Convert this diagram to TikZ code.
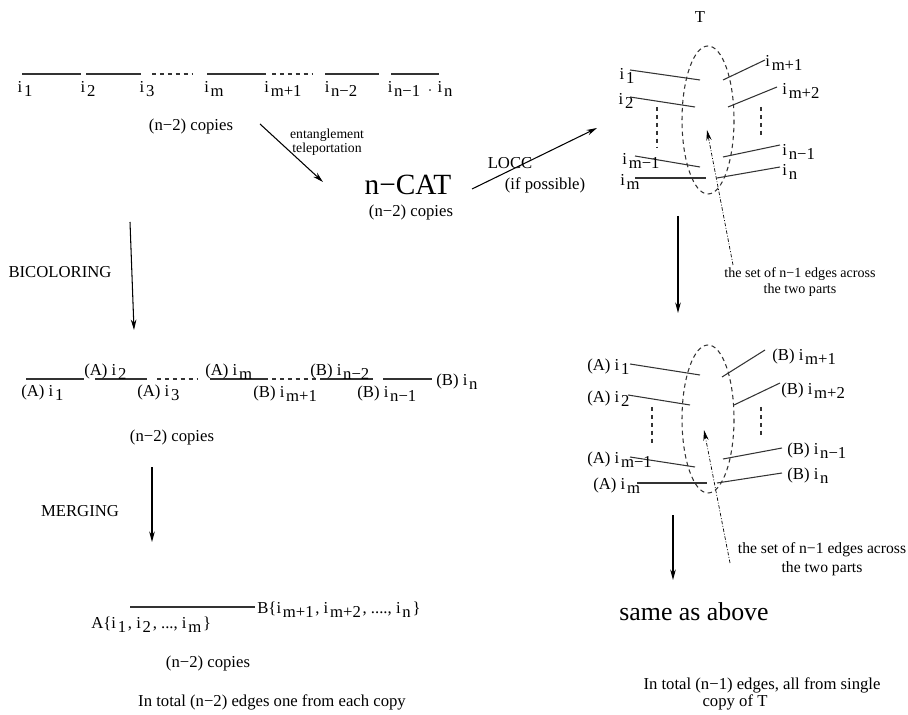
\documentclass[tikz,border=0pt]{standalone}
\usepackage{fontspec}
\setmainfont{Liberation Serif}
\usetikzlibrary{arrows.meta}
\newcommand{\lo}[1]{\raisebox{-0.55ex}{#1}}
\newcommand{\iv}[1]{i\kern1pt\lo{#1}}

\begin{document}
\begin{tikzpicture}[x=0.02cm,y=-0.02cm,
  lbl/.style={font=\fontsize{9.5}{11}\selectfont,inner sep=0pt},
  small/.style={font=\fontsize{7.8}{6.5}\selectfont,inner sep=0pt,align=center},
  edge/.style={line width=0.6pt,black!80},
  dashline/.style={edge,dash pattern=on 2.5pt off 2pt},
  flow/.style={line width=0.6pt,-{Stealth[length=6pt,width=3.2pt]}},
  pointer/.style={line width=0.4pt,dash pattern=on 2pt off 1pt on 0.5pt off 1pt,-{Stealth[length=6pt,width=3pt]}}]
\useasboundingbox (0,0) rectangle (908,715);%
% top row: the path i_1 ... i_n
\coordinate (r1a) at (22,74); \coordinate (r1b) at (81,74);%
\coordinate (r2a) at (86,74); \coordinate (r2b) at (141,74);%
\coordinate (r3a) at (152,74); \coordinate (r3b) at (192,74);%
\coordinate (r4a) at (207,74); \coordinate (r4b) at (266,74);%
\coordinate (r5a) at (272,74); \coordinate (r5b) at (312,74);%
\coordinate (r6a) at (325,74); \coordinate (r6b) at (379,74);%
\coordinate (r7a) at (391,74); \coordinate (r7b) at (439,74);%
\draw[edge] (r1a) -- (r1b);%
\draw[edge] (r2a) -- (r2b);%
\draw[dashline] (r3a) -- (r3b);%
\draw[edge] (r4a) -- (r4b);%
\draw[dashline] (r5a) -- (r5b);%
\draw[edge] (r6a) -- (r6b);%
\draw[edge] (r7a) -- (r7b);%
\node[lbl] (t1) at (25,89) {\iv{1}};%
\node[lbl] (t2) at (88,89) {\iv{2}};%
\node[lbl] (t3) at (147,89) {\iv{3}};%
\node[lbl] (tm) at (214,89) {\iv{m}};%
\node[lbl] (tm1) at (283,89) {\iv{m+1}};%
\node[lbl] (tn2) at (341,89) {\iv{n−2}};%
\node[lbl] (tn1) at (404,89) {\iv{n−1}};%
\node[lbl] (tdot) at (430,91) {$\cdot$};%
\node[lbl] (tn) at (445,89) {\iv{n}};%
\node[lbl] (copiesA) at (191,126) {(n−2) copies};%
% n-CAT
\node[inner sep=0pt,font=\fontsize{16.7}{18}\selectfont] (cat) at (408,185) {n−CAT};%
\node[lbl] (copiesB) at (411,212) {(n−2) copies};%
\coordinate (ent0) at (260,124); \coordinate (ent1) at (323,182);%
\draw[flow] (ent0) -- (ent1);%
\node[small] (entlbl) at (327,142) {entanglement\\ teleportation};%
\coordinate (locc0) at (472,189); \coordinate (locc1) at (597,128);%
\draw[flow] (locc0) -- (locc1);%
\node[lbl] (locc) at (510,163) {LOCC};%
\node[lbl] (ifposs) at (545,185) {(if possible)};%
% tree T, upper copy
\node[lbl] (tT) at (700,17) {T};%
\draw[dashline] (708,120) ellipse [x radius=26, y radius=74];%
\coordinate (u1a) at (630,70); \coordinate (u1b) at (700,80);%
\coordinate (u2a) at (630,97); \coordinate (u2b) at (695,107);%
\coordinate (u3a) at (635,156); \coordinate (u3b) at (700,167);%
\coordinate (u4a) at (635,178); \coordinate (u4b) at (706,178);%
\coordinate (u5a) at (723,80); \coordinate (u5b) at (765,60);%
\coordinate (u6a) at (728,107); \coordinate (u6b) at (777,87);%
\coordinate (u7a) at (723,157); \coordinate (u7b) at (780,145);%
\coordinate (u8a) at (717,178); \coordinate (u8b) at (780,167);%
\draw[edge] (u1a) -- (u1b);%
\draw[edge] (u2a) -- (u2b);%
\draw[edge] (u3a) -- (u3b);%
\draw[edge] (u4a) -- (u4b);%
\draw[edge] (u5a) -- (u5b);%
\draw[edge] (u6a) -- (u6b);%
\draw[edge] (u7a) -- (u7b);%
\draw[edge] (u8a) -- (u8b);%
\node[lbl] (ul1) at (627,76) {\iv{1}};%
\node[lbl] (ul2) at (626,101) {\iv{2}};%
\node[lbl] (ul3) at (641,161) {\iv{m−1}};%
\node[lbl] (ul4) at (630,182) {\iv{m}};%
\node[lbl,anchor=west] (ul5) at (765,63) {\iv{m+1}};%
\node[lbl,anchor=west] (ul6) at (782,91) {\iv{m+2}};%
\node[lbl,anchor=west] (ul7) at (782,152) {\iv{n−1}};%
\node[lbl,anchor=west] (ul8) at (782,172) {\iv{n}};%
\coordinate (ud1a) at (657,107); \coordinate (ud1b) at (657,147);%
\coordinate (ud2a) at (761,107); \coordinate (ud2b) at (761,138);%
\draw[dashline] (ud1a) -- (ud1b);%
\draw[dashline] (ud2a) -- (ud2b);%
\coordinate (up0) at (733,265); \coordinate (up1) at (707,130);%
\draw[pointer] (up0) -- (up1);%
\node[inner sep=0pt,align=center,font=\fontsize{8}{9.5}\selectfont] (upset) at (800,282) {the set of n−1 edges across\\ the two parts};%
\coordinate (dn0) at (678,216); \coordinate (dn1) at (678,313);%
\draw[flow] (dn0) -- (dn1);%
% tree T, bicoloured copy
\draw[dashline] (708,419) ellipse [x radius=26, y radius=74];%
\coordinate (w1a) at (630,364); \coordinate (w1b) at (700,375);%
\coordinate (w2a) at (628,395); \coordinate (w2b) at (690,405);%
\coordinate (w3a) at (630,457); \coordinate (w3b) at (695,467);%
\coordinate (w4a) at (637,483); \coordinate (w4b) at (707,483);%
\coordinate (w5a) at (722,377); \coordinate (w5b) at (765,350);%
\coordinate (w6a) at (734,405); \coordinate (w6b) at (780,383);%
\coordinate (w7a) at (723,459); \coordinate (w7b) at (782,448);%
\coordinate (w8a) at (717,483); \coordinate (w8b) at (782,473);%
\draw[edge] (w1a) -- (w1b);%
\draw[edge] (w2a) -- (w2b);%
\draw[edge] (w3a) -- (w3b);%
\draw[edge] (w4a) -- (w4b);%
\draw[edge] (w5a) -- (w5b);%
\draw[edge] (w6a) -- (w6b);%
\draw[edge] (w7a) -- (w7b);%
\draw[edge] (w8a) -- (w8b);%
\node[lbl,anchor=west] (wl1) at (587,367) {(A) \iv{1}};%
\node[lbl,anchor=west] (wl2) at (587,399) {(A) \iv{2}};%
\node[lbl,anchor=west] (wl3) at (587,460) {(A) \iv{m−1}};%
\node[lbl,anchor=west] (wl4) at (593,486) {(A) \iv{m}};%
\node[lbl,anchor=west] (wl5) at (772,357) {(B) \iv{m+1}};%
\node[lbl,anchor=west] (wl6) at (781,391) {(B) \iv{m+2}};%
\node[lbl,anchor=west] (wl7) at (787,451) {(B) \iv{n−1}};%
\node[lbl,anchor=west] (wl8) at (787,476) {(B) \iv{n}};%
\coordinate (wd1a) at (652,407); \coordinate (wd1b) at (652,445);%
\coordinate (wd2a) at (761,407); \coordinate (wd2b) at (761,437);%
\draw[dashline] (wd1a) -- (wd1b);%
\draw[dashline] (wd2a) -- (wd2b);%
\coordinate (wp0) at (730,563); \coordinate (wp1) at (704,430);%
\draw[pointer] (wp0) -- (wp1);%
\node[inner sep=0pt,align=center,font=\fontsize{8.9}{10.5}\selectfont] (lowset) at (822,559) {the set of n−1 edges across\\ the two parts};%
\coordinate (dw0) at (673,515); \coordinate (dw1) at (673,580);%
\draw[flow] (dw0) -- (dw1);%
\node[inner sep=0pt,font=\fontsize{14.7}{16}\selectfont] (same) at (694,612) {same as above};%
\node[lbl] (tot1a) at (762,685) {In total (n−1) edges, all from single};%
\node[lbl] (tot1b) at (735,702) {copy of T};%
% bicolouring of the path
\coordinate (bc0) at (130,222); \coordinate (bc1) at (134,330);%
\draw[flow] (bc0) -- (bc1);%
\node[lbl] (bicol) at (60,272) {BICOLORING};%
\coordinate (s1a) at (26,379); \coordinate (s1b) at (84,379);%
\coordinate (s2a) at (95,379); \coordinate (s2b) at (147,379);%
\coordinate (s3a) at (157,379); \coordinate (s3b) at (197,379);%
\coordinate (s4a) at (210,379); \coordinate (s4b) at (268,379);%
\coordinate (s5a) at (272,379); \coordinate (s5b) at (318,379);%
\coordinate (s6a) at (320,379); \coordinate (s6b) at (373,379);%
\coordinate (s7a) at (383,379); \coordinate (s7b) at (432,379);%
\draw[edge] (s1a) -- (s1b);%
\draw[edge] (s2a) -- (s2b);%
\draw[dashline] (s3a) -- (s3b);%
\draw[edge] (s4a) -- (s4b);%
\draw[dashline] (s5a) -- (s5b);%
\draw[edge] (s6a) -- (s6b);%
\draw[edge] (s7a) -- (s7b);%
\node[lbl,anchor=west] (b1) at (21,393) {(A) \iv{1}};%
\node[lbl,anchor=west] (b2) at (84,372) {(A) \iv{2}};%
\node[lbl,anchor=west] (b3) at (137,393) {(A) \iv{3}};%
\node[lbl,anchor=west] (bm) at (205,372) {(A) \iv{m}};%
\node[lbl,anchor=west] (bm1) at (253,394) {(B) \iv{m+1}};%
\node[lbl,anchor=west] (bn2) at (310,372) {(B) \iv{n−2}};%
\node[lbl,anchor=west] (bn1) at (357,394) {(B) \iv{n−1}};%
\node[lbl,anchor=west] (bn) at (436,382) {(B) \iv{n}};%
\node[lbl] (copiesC) at (172,437) {(n−2) copies};%
% merging
\coordinate (mg0) at (152,467); \coordinate (mg1) at (152,542);%
\draw[flow] (mg0) -- (mg1);%
\node[lbl] (merg) at (80,511) {MERGING};%
\coordinate (m1a) at (130,607); \coordinate (m1b) at (255,607);%
\draw[edge] (m1a) -- (m1b);%
\node[lbl,anchor=west] (setA) at (91,625) {A\{\iv{1}\kern1pt, \iv{2}\kern1pt, ..., \iv{m}\kern1pt\}};%
\node[lbl,anchor=west] (setB) at (257,610) {B\{\iv{m+1}\kern1pt, \iv{m+2}\kern1pt, ...., \iv{n}\kern1pt\}};%
\node[lbl] (copiesD) at (208,663) {(n−2) copies};%
\node[lbl] (tot2) at (272,702) {In total (n−2) edges one from each copy};%
\end{tikzpicture}
\end{document}
